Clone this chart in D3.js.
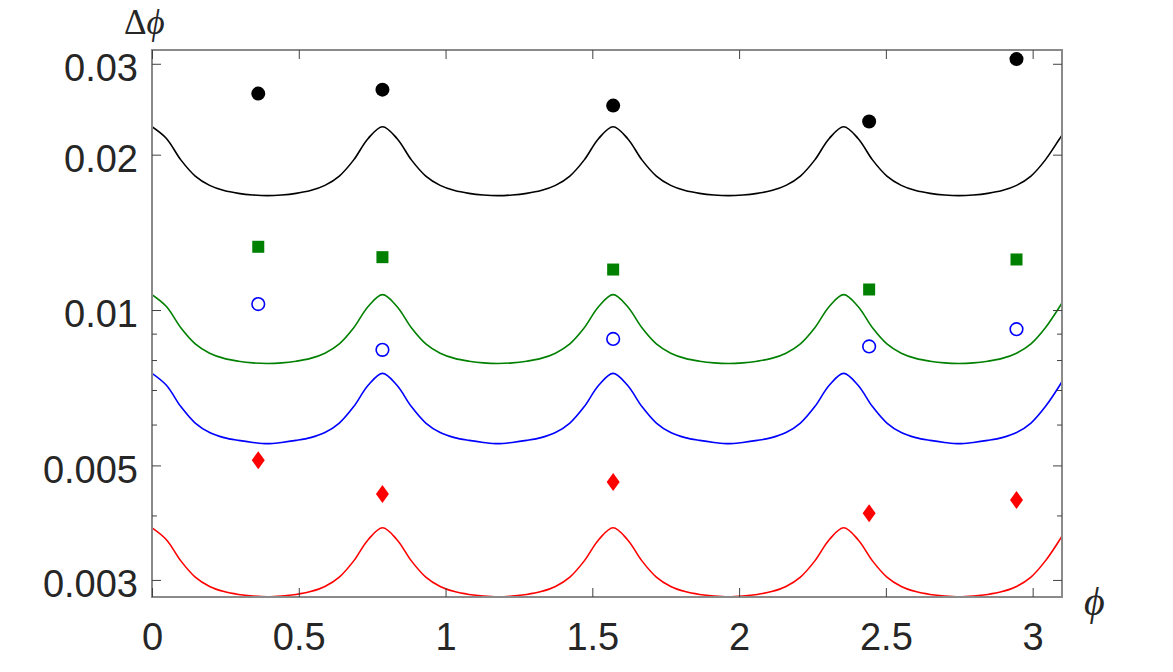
<!DOCTYPE html>
<meta charset="utf-8">
<style>
    body { margin: 0; background: #fff; }
    .tick line { stroke: #404040; stroke-width: 1px; }
    .tick text { font-family: "Liberation Sans", Arial, sans-serif; font-size: 38px; fill: #262626; }
    .curve { fill: none; stroke-width: 1.6px; }
</style>
<svg width="1173" height="672"></svg>
<script src="https://d3js.org/d3.v7.min.js"></script>
<script>
    // phi grid (k*pi/64) plus the right edge of the axis
    var phi = [0, 0.0491, 0.0982, 0.1473, 0.1963, 0.2454, 0.2945, 0.3436, 0.3927, 0.4418, 0.4909, 0.5400, 0.5890, 0.6381, 0.6872, 0.7363,
        0.7854, 0.8345, 0.8836, 0.9327, 0.9817, 1.0308, 1.0799, 1.1290, 1.1781, 1.2272, 1.2763, 1.3254, 1.3744, 1.4235, 1.4726, 1.5217,
        1.5708, 1.6199, 1.6690, 1.7181, 1.7671, 1.8162, 1.8653, 1.9144, 1.9635, 2.0126, 2.0617, 2.1108, 2.1598, 2.2089, 2.2580, 2.3071,
        2.3562, 2.4053, 2.4544, 2.5035, 2.5525, 2.6016, 2.6507, 2.6998, 2.7489, 2.7980, 2.8471, 2.8962, 2.9452, 2.9943, 3.0434, 3.0925, 3.1];

    var blackCurve = [0.02265, 0.02150, 0.01954, 0.01818, 0.01744, 0.01704, 0.01683, 0.01671, 0.01666, 0.01671, 0.01683, 0.01704, 0.01744, 0.01818, 0.01954, 0.02150,
        0.02265, 0.02150, 0.01954, 0.01818, 0.01744, 0.01704, 0.01683, 0.01671, 0.01666, 0.01671, 0.01683, 0.01704, 0.01744, 0.01818, 0.01954, 0.02150,
        0.02265, 0.02150, 0.01954, 0.01818, 0.01744, 0.01704, 0.01683, 0.01671, 0.01666, 0.01671, 0.01683, 0.01704, 0.01744, 0.01818, 0.01954, 0.02150,
        0.02265, 0.02150, 0.01954, 0.01818, 0.01744, 0.01704, 0.01683, 0.01671, 0.01666, 0.01671, 0.01683, 0.01704, 0.01744, 0.01818, 0.01954, 0.02150, 0.02181];

    var greenCurve = [0.01071, 0.01016, 0.00924, 0.00860, 0.00825, 0.00806, 0.00796, 0.00790, 0.00788, 0.00790, 0.00796, 0.00806, 0.00825, 0.00860, 0.00924, 0.01016,
        0.01071, 0.01016, 0.00924, 0.00860, 0.00825, 0.00806, 0.00796, 0.00790, 0.00788, 0.00790, 0.00796, 0.00806, 0.00825, 0.00860, 0.00924, 0.01016,
        0.01071, 0.01016, 0.00924, 0.00860, 0.00825, 0.00806, 0.00796, 0.00790, 0.00788, 0.00790, 0.00796, 0.00806, 0.00825, 0.00860, 0.00924, 0.01016,
        0.01071, 0.01016, 0.00924, 0.00860, 0.00825, 0.00806, 0.00796, 0.00790, 0.00788, 0.00790, 0.00796, 0.00806, 0.00825, 0.00860, 0.00924, 0.01016, 0.01032];

    var blueCurve = [0.00754, 0.00715, 0.00650, 0.00604, 0.00579, 0.00566, 0.00559, 0.00554, 0.00551, 0.00554, 0.00559, 0.00566, 0.00579, 0.00604, 0.00650, 0.00715,
        0.00754, 0.00715, 0.00650, 0.00604, 0.00579, 0.00566, 0.00559, 0.00554, 0.00551, 0.00554, 0.00559, 0.00566, 0.00579, 0.00604, 0.00650, 0.00715,
        0.00754, 0.00715, 0.00650, 0.00604, 0.00579, 0.00566, 0.00559, 0.00554, 0.00551, 0.00554, 0.00559, 0.00566, 0.00579, 0.00604, 0.00650, 0.00715,
        0.00754, 0.00715, 0.00650, 0.00604, 0.00579, 0.00566, 0.00559, 0.00554, 0.00551, 0.00554, 0.00559, 0.00566, 0.00579, 0.00604, 0.00650, 0.00715, 0.00727];

    var redCurve = [0.003785, 0.00359, 0.003266, 0.003038, 0.002914, 0.002848, 0.002812, 0.002792, 0.002783, 0.002792, 0.002812, 0.002848, 0.002914, 0.003038, 0.003266, 0.00359,
        0.003785, 0.00359, 0.003266, 0.003038, 0.002914, 0.002848, 0.002812, 0.002792, 0.002783, 0.002792, 0.002812, 0.002848, 0.002914, 0.003038, 0.003266, 0.00359,
        0.003785, 0.00359, 0.003266, 0.003038, 0.002914, 0.002848, 0.002812, 0.002792, 0.002783, 0.002792, 0.002812, 0.002848, 0.002914, 0.003038, 0.003266, 0.00359,
        0.003785, 0.00359, 0.003266, 0.003038, 0.002914, 0.002848, 0.002812, 0.002792, 0.002783, 0.002792, 0.002812, 0.002848, 0.002914, 0.003038, 0.003266, 0.00359, 0.003648];

    // measured points
    var markerPhi = [0.362, 0.785, 1.571, 2.443, 2.945];
    var blackPts = [0.02626, 0.02673, 0.02489, 0.02319, 0.03063];
    var greenPts = [0.01326, 0.01266, 0.01198, 0.01096, 0.01253];
    var bluePts = [0.01027, 0.008372, 0.008792, 0.00850, 0.00918];
    var redPts = [0.005119, 0.004401, 0.004643, 0.00404, 0.004286];

    var xTicks = [0, 0.5, 1, 1.5, 2, 2.5, 3];
    var yMajor = [0.003, 0.005, 0.01, 0.02, 0.03];
    var yMinor = [0.004, 0.006, 0.007, 0.008, 0.009];

    var svg = d3.select("svg"),
        pLeft = 152, pRight = 1062, pTop = 50, pBottom = 597;

    var x = d3.scaleLinear().domain([0, 3.1]).range([pLeft, pRight]);
    var y = d3.scaleLog().domain([0.00278, 0.0319]).range([pBottom, pTop]);

    svg.append("clipPath").attr("id", "plot")
        .append("rect")
        .attr("x", pLeft).attr("y", pTop)
        .attr("width", pRight - pLeft).attr("height", pBottom - pTop);

    var line = d3.line()
        .x(function(d) { return x(d[0]); })
        .y(function(d) { return y(d[1]); })
        .curve(d3.curveCatmullRom.alpha(0.5));

    var curves = [
        { values: blackCurve, color: "#000000" },
        { values: greenCurve, color: "#008000" },
        { values: blueCurve, color: "#0000ff" },
        { values: redCurve, color: "#ff0000" }
    ];

    var g = svg.append("g").attr("clip-path", "url(#plot)");
    g.selectAll("path.curve")
        .data(curves)
        .enter().append("path")
        .attr("class", "curve")
        .attr("stroke", function(d) { return d.color; })
        .attr("d", function(d) {
            return line(phi.map(function(p, i) { return [p, d.values[i]]; }));
        });

    // axes box + ticks
    svg.append("rect")
        .attr("x", pLeft).attr("y", pTop)
        .attr("width", pRight - pLeft).attr("height", pBottom - pTop)
        .attr("fill", "none").attr("stroke", "#8a8a8a").attr("stroke-width", 2);

    function noDomain(sel) { sel.select(".domain").remove(); }

    svg.append("g").attr("transform", "translate(0," + pBottom + ")")
        .call(d3.axisBottom(x).tickValues(xTicks).tickSize(-9).tickPadding(26).tickFormat(function(d) { return String(d); }))
        .call(noDomain);
    svg.append("g").attr("transform", "translate(0," + pTop + ")")
        .call(d3.axisTop(x).tickValues(xTicks).tickSize(-9).tickFormat(""))
        .call(noDomain);

    svg.append("g").attr("transform", "translate(" + pLeft + ",0)")
        .call(d3.axisLeft(y).tickValues(yMajor).tickSize(-9).tickPadding(14).tickFormat(function(d) { return String(d); }))
        .call(noDomain)
        .selectAll("text").attr("dy", "0.44em");
    svg.append("g").attr("transform", "translate(" + pLeft + ",0)")
        .call(d3.axisLeft(y).tickValues(yMinor).tickSize(-5).tickFormat(""))
        .call(noDomain);
    svg.append("g").attr("transform", "translate(" + pRight + ",0)")
        .call(d3.axisRight(y).tickValues(yMajor).tickSize(-9).tickFormat(""))
        .call(noDomain);
    svg.append("g").attr("transform", "translate(" + pRight + ",0)")
        .call(d3.axisRight(y).tickValues(yMinor).tickSize(-5).tickFormat(""))
        .call(noDomain);

    // markers
    var pts = svg.append("g");
    pts.selectAll("circle.black")
        .data(markerPhi.map(function(p, i) { return [p, blackPts[i]]; }))
        .enter().append("circle")
        .attr("cx", function(d) { return x(d[0]); })
        .attr("cy", function(d) { return y(d[1]); })
        .attr("r", 7).attr("fill", "#000");

    pts.selectAll("rect.green")
        .data(markerPhi.map(function(p, i) { return [p, greenPts[i]]; }))
        .enter().append("rect")
        .attr("x", function(d) { return x(d[0]) - 6; })
        .attr("y", function(d) { return y(d[1]) - 6; })
        .attr("width", 12).attr("height", 12).attr("fill", "#008000");

    pts.selectAll("circle.blue")
        .data(markerPhi.map(function(p, i) { return [p, bluePts[i]]; }))
        .enter().append("circle")
        .attr("cx", function(d) { return x(d[0]); })
        .attr("cy", function(d) { return y(d[1]); })
        .attr("r", 6.3).attr("fill", "none").attr("stroke", "#0000ff").attr("stroke-width", 1.6);

    pts.selectAll("path.red")
        .data(markerPhi.map(function(p, i) { return [p, redPts[i]]; }))
        .enter().append("path")
        .attr("transform", function(d) { return "translate(" + x(d[0]) + "," + y(d[1]) + ")"; })
        .attr("d", "M0,-9L6.5,0L0,9L-6.5,0Z")
        .attr("fill", "#ff0000");

    // axis labels
    var ylab = svg.append("text")
        .attr("x", 124).attr("y", 34)
        .attr("font-family", "'Liberation Serif', 'Times New Roman', serif")
        .attr("font-size", 35).attr("fill", "#262626");
    ylab.append("tspan").text("\u0394");
    ylab.append("tspan").attr("font-style", "italic").text("\u03d5");

    svg.append("text")
        .attr("x", 1084).attr("y", 615)
        .attr("font-family", "'Liberation Serif', 'Times New Roman', serif")
        .attr("font-style", "italic")
        .attr("font-size", 40).attr("fill", "#262626")
        .text("\u03d5");
</script>
